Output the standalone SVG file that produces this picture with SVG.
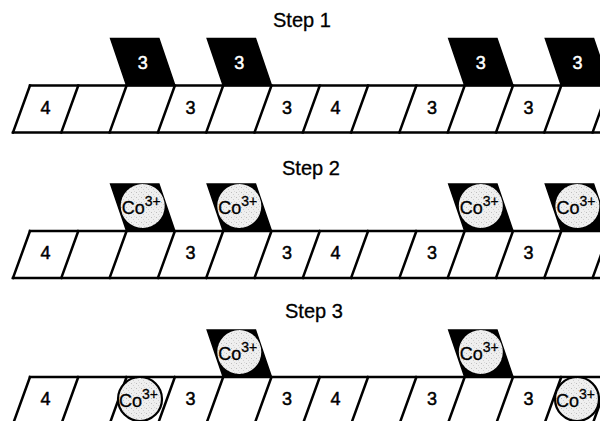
<svg xmlns="http://www.w3.org/2000/svg" width="600" height="421" viewBox="0 0 600 421">
<style>
.ln{stroke:#000;stroke-width:2.5;fill:none;stroke-linecap:square}
.tab{fill:#000;stroke:#000;stroke-width:1.5;stroke-linejoin:miter}
.title{font-family:"Liberation Sans",Arial,sans-serif;font-size:20px;fill:#000;stroke:#000;stroke-width:0.3}
.num{font-family:"Liberation Sans",Arial,sans-serif;font-size:18px;fill:#000;text-anchor:middle;stroke:#000;stroke-width:0.5}
.wnum{font-family:"Liberation Sans",Arial,sans-serif;font-size:18px;fill:#fff;text-anchor:middle;stroke:#fff;stroke-width:0.5}
.co{font-family:"Liberation Sans",Arial,sans-serif;font-size:18px;fill:#000;stroke:#000;stroke-width:0.3}
.sup{font-size:14px}
.ion{fill:url(#stip)}
.ionb{fill:url(#stip);stroke:#000;stroke-width:2.2}
</style>
<defs>
<pattern id="stip" width="5" height="5" patternUnits="userSpaceOnUse">
<rect width="5" height="5" fill="#efefef"/>
<rect x="1" y="1" width="1" height="1" fill="#bdbdbd"/>
<rect x="3" y="3" width="1" height="1" fill="#cfcfcf"/>
<rect x="4" y="0" width="1" height="1" fill="#d8d8d8"/>
</pattern>
<g id="strip">
<path class="ln" d="M30,0H600M13,47H600"/>
<path class="ln" d="M13,47L30,0M61.3,47L78.3,0M109.6,47L126.6,0M157.9,47L174.9,0M206.2,47L223.2,0M254.5,47L271.5,0M302.8,47L319.8,0M351.1,47L368.1,0M399.4,47L416.4,0M447.7,47L464.7,0M496,47L513,0M544.3,47L561.3,0M592.6,47L609.6,0"/>
</g>
</defs>

<!-- Step 1 -->
<g id="step1">
<text class="title" x="273" y="27">Step 1</text>
<g transform="translate(0,85.5)">
<use href="#strip"/>
<g id="s1-labels">
<text class="num" x="45.6" y="28">4</text>
<text class="num" x="190.5" y="28">3</text>
<text class="num" x="287.1" y="28">3</text>
<text class="num" x="335.4" y="28">4</text>
<text class="num" x="432" y="28">3</text>
<text class="num" x="528.6" y="28">3</text>
</g>
<g id="s1-tab1"><polygon class="tab" points="110.6,-47 158.9,-47 174.9,0 126.6,0"/><text class="wnum" x="142.7" y="-17">3</text></g>
<g id="s1-tab2"><polygon class="tab" points="207.2,-47 255.5,-47 271.5,0 223.2,0"/><text class="wnum" x="239.3" y="-17">3</text></g>
<g id="s1-tab3"><polygon class="tab" points="448.7,-47 497,-47 513,0 464.7,0"/><text class="wnum" x="480.8" y="-17">3</text></g>
<g id="s1-tab4"><polygon class="tab" points="545.3,-47 593.6,-47 609.6,0 561.3,0"/><text class="wnum" x="577.4" y="-17">3</text></g>
</g>
</g>

<!-- Step 2 -->
<g id="step2">
<text class="title" x="282" y="175">Step 2</text>
<g transform="translate(0,231)">
<use href="#strip"/>
<g id="s2-labels">
<text class="num" x="45.6" y="28">4</text>
<text class="num" x="190.5" y="28">3</text>
<text class="num" x="287.1" y="28">3</text>
<text class="num" x="335.4" y="28">4</text>
<text class="num" x="432" y="28">3</text>
<text class="num" x="528.6" y="28">3</text>
</g>
<g id="s2-tab1"><polygon class="tab" points="110.6,-47 158.9,-47 174.9,0 126.6,0"/><circle class="ion" cx="142.7" cy="-25" r="22"/><text class="co" x="121.7" y="-17">Co<tspan class="sup" dy="-8">3+</tspan></text></g>
<g id="s2-tab2"><polygon class="tab" points="207.2,-47 255.5,-47 271.5,0 223.2,0"/><circle class="ion" cx="239.3" cy="-25" r="22"/><text class="co" x="218.3" y="-17">Co<tspan class="sup" dy="-8">3+</tspan></text></g>
<g id="s2-tab3"><polygon class="tab" points="448.7,-47 497,-47 513,0 464.7,0"/><circle class="ion" cx="480.8" cy="-25" r="22"/><text class="co" x="459.8" y="-17">Co<tspan class="sup" dy="-8">3+</tspan></text></g>
<g id="s2-tab4"><polygon class="tab" points="545.3,-47 593.6,-47 609.6,0 561.3,0"/><circle class="ion" cx="577.4" cy="-25" r="22"/><text class="co" x="556.4" y="-17">Co<tspan class="sup" dy="-8">3+</tspan></text></g>
</g>
</g>

<!-- Step 3 -->
<g id="step3">
<text class="title" x="285" y="318">Step 3</text>
<g transform="translate(0,377)">
<use href="#strip"/>
<g id="s3-labels">
<text class="num" x="45.6" y="28">4</text>
<text class="num" x="190.5" y="28">3</text>
<text class="num" x="287.1" y="28">3</text>
<text class="num" x="335.4" y="28">4</text>
<text class="num" x="432" y="28">3</text>
<text class="num" x="528.6" y="28">3</text>
</g>
<g id="s3-tab2"><polygon class="tab" points="207.2,-47 255.5,-47 271.5,0 223.2,0"/><circle class="ion" cx="239.3" cy="-25" r="22"/><text class="co" x="218.3" y="-17">Co<tspan class="sup" dy="-8">3+</tspan></text></g>
<g id="s3-tab3"><polygon class="tab" points="448.7,-47 497,-47 513,0 464.7,0"/><circle class="ion" cx="480.8" cy="-25" r="22"/><text class="co" x="459.8" y="-17">Co<tspan class="sup" dy="-8">3+</tspan></text></g>
<g id="s3-ion1"><circle class="ionb" cx="140" cy="22" r="22"/><text class="co" x="119" y="30">Co<tspan class="sup" dy="-8">3+</tspan></text></g>
<g id="s3-ion2"><circle class="ionb" cx="577" cy="22" r="22"/><text class="co" x="556" y="30">Co<tspan class="sup" dy="-8">3+</tspan></text></g>
</g>
</g>
</svg>
